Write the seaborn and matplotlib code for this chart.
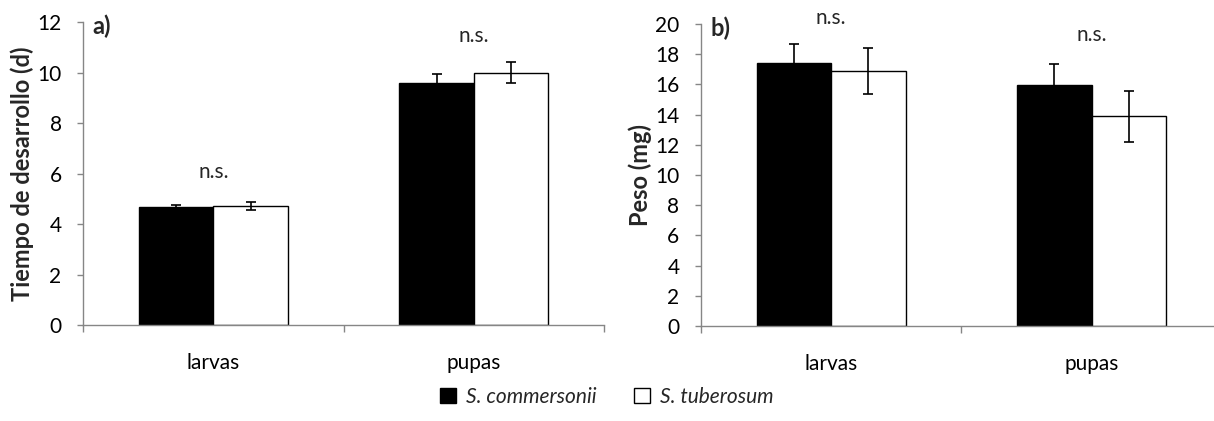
import matplotlib
matplotlib.use("Agg")
import matplotlib.pyplot as plt
import seaborn as sns
import pandas as pd
import numpy as np

# Data: means and error (half-length) per stage and host plant
stages = ["larvas", "pupas"]
hosts = ["S. commersonii", "S. tuberosum"]

dev_commersonii = [4.67, 9.60]
dev_tuberosum = [4.72, 10.00]
dev_err_commersonii = [0.09, 0.33]
dev_err_tuberosum = [0.16, 0.42]

wt_commersonii = [17.45, 15.95]
wt_tuberosum = [16.90, 13.90]
wt_err_commersonii = [1.2, 1.4]
wt_err_tuberosum = [1.5, 1.7]

ns_dev = [6.05, 11.45]
ns_wt = [20.4, 19.3]

sns.set_theme(style="white")
plt.rcParams["font.family"] = ["Lato", "DejaVu Sans"]

AXIS_GREY = "#868686"
palette = {hosts[0]: "black", hosts[1]: "white"}


def make_frame(v1, v2):
    return pd.DataFrame({
        "stage": stages * 2,
        "host": [hosts[0]] * 2 + [hosts[1]] * 2,
        "value": list(v1) + list(v2),
    })


def draw_panel(ax, df, errs, ymax, ystep, ylabel, tag, ns_y):
    sns.barplot(data=df, x="stage", y="value", hue="host", hue_order=hosts,
                order=stages, palette=palette, errorbar=None, width=0.572,
                gap=0, edgecolor="black", linewidth=1.0, ax=ax, legend=True)
    for cont, err in zip(ax.containers, errs):
        xs = [p.get_x() + p.get_width() / 2 for p in cont.patches]
        ys = [p.get_height() for p in cont.patches]
        ax.errorbar(xs, ys, yerr=err, fmt="none", ecolor="black",
                    elinewidth=1.2, capsize=3.5, capthick=1.2, zorder=5)
    ax.set_xlim(-0.5, 1.5)
    ax.set_ylim(0, ymax)
    ax.set_yticks(np.arange(0, ymax + 0.01, ystep))
    ax.set_xticks([0, 1])
    ax.set_xticklabels(stages)
    ax.set_xticks([-0.5, 0.5, 1.5], minor=True)
    ax.tick_params(axis="x", which="major", length=0, pad=20, labelsize=15,
                   labelcolor="black")
    ax.tick_params(axis="x", which="minor", bottom=True, length=5,
                   width=1.0, color=AXIS_GREY, direction="out")
    ax.tick_params(axis="y", which="major", left=True, length=4.5,
                   width=1.0, color=AXIS_GREY, direction="out",
                   labelsize=15, pad=11, labelcolor="black")
    for side in ("top", "right"):
        ax.spines[side].set_visible(False)
    for side in ("left", "bottom"):
        ax.spines[side].set_color(AXIS_GREY)
        ax.spines[side].set_linewidth(1.0)
    ax.set_xlabel("")
    ax.set_ylabel(ylabel, fontsize=17, fontweight="bold", labelpad=2)
    ax.text(0.018, 0.985, tag, transform=ax.transAxes, fontsize=17,
            fontweight="bold", ha="left", va="center")
    for i, y in enumerate(ns_y):
        ax.text(i, y, "n.s.", ha="center", va="center", fontsize=15,
                clip_on=False)
    ax.get_legend().remove()


fig = plt.figure(figsize=(12.14, 4.21), dpi=100)
ax_a = fig.add_axes([0.0684, 0.228, 0.4292, 0.7197])
ax_b = fig.add_axes([0.5774, 0.2257, 0.4292, 0.717])

draw_panel(ax_a, make_frame(dev_commersonii, dev_tuberosum),
           [dev_err_commersonii, dev_err_tuberosum], 12, 2,
           "Tiempo de desarrollo (d)", "a)", ns_dev)
draw_panel(ax_b, make_frame(wt_commersonii, wt_tuberosum),
           [wt_err_commersonii, wt_err_tuberosum], 20, 2,
           "Peso (mg)", "b)", ns_wt)

handles = [plt.Rectangle((0, 0), 1, 1, facecolor="black", edgecolor="black", linewidth=1.0),
           plt.Rectangle((0, 0), 1, 1, facecolor="white", edgecolor="black", linewidth=1.0)]
fig.legend(handles, hosts, loc="center", bbox_to_anchor=(0.5, 0.058), ncol=2,
           frameon=False, prop={"style": "italic", "size": 15},
           handlelength=0.75, handleheight=0.75, handletextpad=0.5,
           columnspacing=1.8)

fig.savefig("out.png", dpi=100)
